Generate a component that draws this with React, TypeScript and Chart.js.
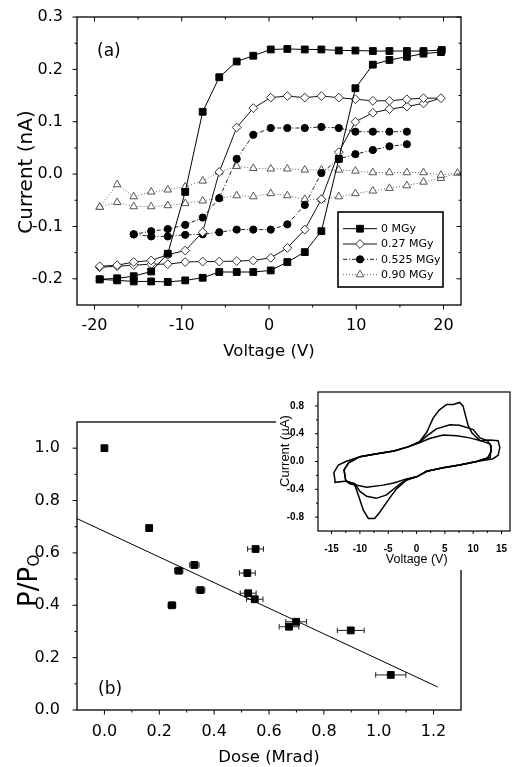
import React, { useEffect, useRef } from 'react';
import { Chart, registerables } from 'chart.js';

Chart.register(...registerables);

// ---------------- Panel (a): I-V loops ----------------
const seriesLabelsA = ['0 MGy', '0.27 MGy', '0.525 MGy', '0.90 MGy'];

const v0 = [-19.4, -17.4, -15.5, -13.5, -11.6, -9.6, -7.6, -5.7, -3.7, -1.8, 0.2, 2.1, 4.1, 6.0, 8.0, 9.9, 11.9, 13.8, 15.8, 17.7, 19.7,
  19.8, 17.7, 15.8, 13.8, 11.9, 9.9, 8.0, 6.0, 4.1, 2.1, 0.2, -1.8, -3.7, -5.7, -7.6, -9.6, -11.6, -13.5, -15.5, -17.4, -19.4];
const i0 = [-0.201, -0.203, -0.205, -0.205, -0.206, -0.203, -0.198, -0.187, -0.187, -0.187, -0.184, -0.168, -0.149, -0.109, 0.029, 0.164, 0.209, 0.218, 0.224, 0.230, 0.233,
  0.237, 0.235, 0.235, 0.235, 0.235, 0.236, 0.236, 0.238, 0.238, 0.239, 0.238, 0.226, 0.215, 0.185, 0.119, -0.034, -0.152, -0.186, -0.195, -0.199, -0.201];

const v027 = [-19.4, -17.4, -15.5, -13.5, -11.6, -9.6, -7.6, -5.7, -3.7, -1.8, 0.2, 2.1, 4.1, 6.0, 8.0, 9.9, 11.9, 13.8, 15.8, 17.7, 19.7,
  17.7, 15.8, 13.8, 11.9, 9.9, 8.0, 6.0, 4.1, 2.1, 0.2, -1.8, -3.7, -5.7, -7.6, -9.6, -11.6, -13.5, -15.5, -17.4, -19.4];
const i027 = [-0.178, -0.176, -0.174, -0.172, -0.172, -0.168, -0.167, -0.167, -0.166, -0.165, -0.160, -0.141, -0.106, -0.048, 0.042, 0.100, 0.117, 0.124, 0.129, 0.135, 0.145,
  0.145, 0.143, 0.140, 0.140, 0.143, 0.146, 0.149, 0.146, 0.149, 0.146, 0.126, 0.089, 0.004, -0.111, -0.146, -0.154, -0.165, -0.168, -0.174, -0.176];

// null marks the break between the forward and the reverse sweep
const v0525 = [-15.5, -13.5, -11.6, -9.6, -7.6, -5.7, -3.7, -1.8, 0.2, 2.1, 4.1, 6.0, 8.0, 9.9, 11.9, 13.8, 15.8,
  15.8,
  15.8, 13.8, 11.9, 9.9, 8.0, 6.0, 4.1, 2.1, 0.2, -1.8, -3.7, -5.7, -7.6, -9.6, -11.6, -13.5, -15.5];
const i0525 = [-0.115, -0.119, -0.119, -0.116, -0.115, -0.111, -0.106, -0.106, -0.106, -0.096, -0.059, 0.002, 0.029, 0.038, 0.046, 0.053, 0.057,
  null,
  0.081, 0.081, 0.081, 0.081, 0.088, 0.090, 0.088, 0.088, 0.088, 0.075, 0.029, -0.046, -0.083, -0.097, -0.105, -0.109, -0.115];

const v090 = [-19.4, -17.4, -15.5, -13.5, -11.6, -9.6, -7.6, -5.7, -3.7, -1.8, 0.2, 2.1, 4.1, 6.0, 8.0, 9.9, 11.9, 13.8, 15.8, 17.7, 19.7, 21.6,
  19.7, 17.7, 15.8, 13.8, 11.9, 9.9, 8.0, 6.0, 4.1, 2.1, 0.2, -1.8, -3.7, -5.7, -7.6, -9.6, -11.6, -13.5, -15.5, -17.4, -19.4];
const i090 = [-0.063, -0.054, -0.062, -0.062, -0.060, -0.056, -0.051, -0.046, -0.041, -0.043, -0.037, -0.041, -0.048, -0.048, -0.043, -0.037, -0.032, -0.027, -0.022, -0.015, -0.008, 0.002,
  -0.002, 0.003, 0.003, 0.003, 0.003, 0.006, 0.008, 0.008, 0.008, 0.010, 0.010, 0.011, 0.015, 0.004, -0.013, -0.024, -0.030, -0.034, -0.043, -0.020, -0.063];

const xTicksA = [-20, -10, 0, 10, 20];
const xMinorA = [-15, -5, 5, 15];
const yTicksA = [-0.2, -0.1, 0, 0.1, 0.2, 0.3];
const yMinorA = [-0.15, -0.05, 0.05, 0.15, 0.25];

// ---------------- Panel (b): P/Po vs dose ----------------
const doseX = [0.0, 0.163, 0.246, 0.271, 0.328, 0.35, 0.521, 0.524, 0.548, 0.551, 0.673, 0.699, 0.898, 1.044];
const ratioY = [1.0, 0.695, 0.400, 0.532, 0.554, 0.458, 0.523, 0.446, 0.423, 0.615, 0.318, 0.337, 0.304, 0.134];
const doseErr = [0, 0.008, 0.014, 0.015, 0.017, 0.016, 0.029, 0.029, 0.030, 0.029, 0.036, 0.038, 0.049, 0.055];
const fitX = [-0.1, 1.215];
const fitY = [0.731, 0.088];

const xTicksB = [0, 0.2, 0.4, 0.6, 0.8, 1.0, 1.2];
const xMinorB = [0.1, 0.3, 0.5, 0.7, 0.9, 1.1];
const yTicksB = [0, 0.2, 0.4, 0.6, 0.8, 1.0];
const yMinorB = [0.1, 0.3, 0.5, 0.7, 0.9];

// ---------------- Inset: cyclic I-V ----------------
const outerV = [-14.4, -14.6, -13.8, -12.5, -10, -7, -4, -1.5, 0.5, 1.8, 2.9, 4, 5.3, 6.5, 7.6, 8.2, 9.1, 9.8, 11.2, 12.9, 14.4, 14.7, 14.4, 13.5,
  10.6, 7.6, 4.7, 1.8, 0, -1.8, -3.5, -4.7, -6.5, -7.4, -8.5, -9.4, -10.3, -10.9, -12.3, -14.4, -14.4];
const outerI = [-0.27, -0.16, -0.05, 0.0, 0.07, 0.11, 0.15, 0.21, 0.28, 0.42, 0.62, 0.74, 0.82, 0.82, 0.85, 0.8, 0.52, 0.41, 0.3, 0.31, 0.3, 0.2, 0.09, 0.04,
  0.0, -0.05, -0.09, -0.14, -0.22, -0.27, -0.39, -0.52, -0.73, -0.82, -0.82, -0.7, -0.48, -0.34, -0.28, -0.3, -0.27];
const middleV = [-12.5, -12.8, -12, -10, -7, -4, -1.5, 0.5, 2, 3.5, 5.9, 7.6, 10, 11.2, 12.5, 13.2, 13, 10.6, 7.6, 4.7, 1.8, 0, -1.8, -2.9,
  -5.3, -7.1, -8.8, -10, -10.9, -12.5];
const middleI = [-0.28, -0.12, -0.02, 0.07, 0.11, 0.15, 0.21, 0.28, 0.38, 0.47, 0.53, 0.52, 0.46, 0.34, 0.3, 0.22, 0.06, 0.0, -0.05, -0.09, -0.14, -0.22, -0.26, -0.32,
  -0.48, -0.53, -0.5, -0.43, -0.32, -0.28];
const innerV = [-12.5, -12.8, -12, -10, -7, -4, -1.5, 0.5, 2.3, 4.7, 7.1, 9.4, 11.7, 13, 13.2, 12.5, 10.6, 7.6, 4.7, 1.8, 0, -1.8, -4, -5.9,
  -8.8, -11.8, -12.5];
const innerI = [-0.28, -0.12, -0.02, 0.07, 0.11, 0.15, 0.21, 0.27, 0.33, 0.38, 0.37, 0.34, 0.29, 0.25, 0.15, 0.05, 0.0, -0.05, -0.09, -0.14, -0.22, -0.25, -0.31, -0.34,
  -0.37, -0.32, -0.28];

const xTicksC = [-15, -10, -5, 0, 5, 10, 15];
const xMinorC = [-12.5, -7.5, -2.5, 2.5, 7.5, 12.5];
const yTicksC = [-0.8, -0.4, 0, 0.4, 0.8];
const yMinorC = [-0.6, -0.2, 0.2, 0.6];

// ---------------- styles ----------------
const FONT_MAIN = "'DejaVu Sans', sans-serif";
const FONT_INSET = "'Liberation Sans', Arial, sans-serif";

const stylesA = [
  { line: '#000', dash: [] as number[], point: 'rect', r: 4.8, fill: '#000', stroke: '#000' },
  { line: '#111', dash: [] as number[], point: 'rectRot', r: 4.4, fill: '#fff', stroke: '#333' },
  { line: '#222', dash: [4, 2, 1, 2], point: 'circle', r: 3.6, fill: '#000', stroke: '#000' },
  { line: '#666', dash: [1, 2], point: 'triangle', r: 4.4, fill: '#fff', stroke: '#555' },
];

const pts = (xs: number[], ys: (number | null)[]) => xs.map((x, k) => ({ x, y: ys[k] }));

function framePlugin(spec: any) {
  return {
    id: 'frameTicks',
    afterDraw(chart: any) {
      const { ctx, chartArea: a } = chart;
      const xs = chart.scales.x;
      const ys = chart.scales.y;
      ctx.save();
      ctx.strokeStyle = '#000';
      ctx.lineWidth = spec.lw;
      ctx.strokeRect(a.left, a.top, a.right - a.left, a.bottom - a.top);
      ctx.lineWidth = spec.tlw;
      const seg = (x1: number, y1: number, x2: number, y2: number) => {
        ctx.beginPath(); ctx.moveTo(x1, y1); ctx.lineTo(x2, y2); ctx.stroke();
      };
      const doX = (vals: number[], len: number) => vals.forEach((v) => {
        const px = xs.getPixelForValue(v);
        if (spec.bottom) seg(px, a.bottom, px, a.bottom + spec.bottom * len);
        if (spec.top) seg(px, a.top, px, a.top + spec.top * len);
      });
      const doY = (vals: number[], len: number) => vals.forEach((v) => {
        const py = ys.getPixelForValue(v);
        if (spec.left) seg(a.left, py, a.left + spec.left * len, py);
        if (spec.right) seg(a.right, py, a.right + spec.right * len, py);
      });
      doX(spec.majorX, spec.major); doX(spec.minorX, spec.minor);
      doY(spec.majorY, spec.major); doY(spec.minorY, spec.minor);
      ctx.restore();
    },
  };
}

function textPlugin(draw: (ctx: CanvasRenderingContext2D, chart: any) => void) {
  return { id: 'texts', afterDraw(chart: any) { const ctx = chart.ctx; ctx.save(); ctx.fillStyle = '#000'; draw(ctx, chart); ctx.restore(); } };
}

function rotText(ctx: CanvasRenderingContext2D, text: string, x: number, y: number, font: string) {
  ctx.save();
  ctx.translate(x, y);
  ctx.rotate(-Math.PI / 2);
  ctx.font = font;
  ctx.textAlign = 'center';
  ctx.textBaseline = 'alphabetic';
  ctx.fillText(text, 0, 0);
  ctx.restore();
}

function drawMarker(ctx: CanvasRenderingContext2D, st: any, x: number, y: number) {
  const r = st.r;
  ctx.beginPath();
  if (st.point === 'rect') {
    const s = r * Math.SQRT1_2; ctx.rect(x - s, y - s, 2 * s, 2 * s);
  } else if (st.point === 'rectRot') {
    ctx.moveTo(x, y - r); ctx.lineTo(x + r, y); ctx.lineTo(x, y + r); ctx.lineTo(x - r, y); ctx.closePath();
  } else if (st.point === 'circle') {
    ctx.arc(x, y, r, 0, Math.PI * 2);
  } else {
    for (let k = 0; k < 3; k++) {
      const ang = k * (2 * Math.PI / 3);
      const px = x + Math.sin(ang) * r; const py = y - Math.cos(ang) * r;
      if (k === 0) ctx.moveTo(px, py); else ctx.lineTo(px, py);
    }
    ctx.closePath();
  }
  ctx.fillStyle = st.fill; ctx.fill();
  ctx.strokeStyle = st.stroke; ctx.lineWidth = 1; ctx.setLineDash([]); ctx.stroke();
}

const legendPluginA = {
  id: 'legendA',
  afterDraw(chart: any) {
    const ctx = chart.ctx as CanvasRenderingContext2D;
    ctx.save();
    ctx.fillStyle = '#fff';
    ctx.fillRect(338, 212, 105, 75);
    ctx.strokeStyle = '#000'; ctx.lineWidth = 1.6;
    ctx.strokeRect(338, 212, 105, 75);
    seriesLabelsA.forEach((lab, k) => {
      const st = stylesA[k];
      const y = 228.7 + k * 15.3;
      ctx.strokeStyle = st.line; ctx.lineWidth = 1; ctx.setLineDash(st.dash);
      ctx.beginPath(); ctx.moveTo(343, y); ctx.lineTo(377, y); ctx.stroke();
      ctx.setLineDash([]);
      drawMarker(ctx, st, 360, y);
      ctx.fillStyle = '#000';
      ctx.font = `11px ${FONT_MAIN}`;
      ctx.textAlign = 'left'; ctx.textBaseline = 'middle';
      ctx.fillText(lab, 381, y + 0.5);
    });
    ctx.restore();
  },
};

const errorBarPlugin = {
  id: 'errBars',
  beforeDatasetsDraw(chart: any) {
    const ctx = chart.ctx as CanvasRenderingContext2D;
    const xs = chart.scales.x; const ys = chart.scales.y;
    ctx.save();
    ctx.strokeStyle = '#222'; ctx.lineWidth = 1;
    doseX.forEach((x, k) => {
      const e = doseErr[k];
      if (!e) return;
      const x1 = xs.getPixelForValue(x - e); const x2 = xs.getPixelForValue(x + e);
      const y = ys.getPixelForValue(ratioY[k]);
      ctx.beginPath();
      ctx.moveTo(x1, y); ctx.lineTo(x2, y);
      ctx.moveTo(x1, y - 2.8); ctx.lineTo(x1, y + 2.8);
      ctx.moveTo(x2, y - 2.8); ctx.lineTo(x2, y + 2.8);
      ctx.stroke();
    });
    ctx.restore();
  },
};

const whiteBg = {
  id: 'whiteBg',
  beforeDraw(chart: any) {
    const ctx = chart.ctx; ctx.save(); ctx.fillStyle = '#fff'; ctx.fillRect(0, 0, chart.width, chart.height); ctx.restore();
  },
};

function axis(opts: any) {
  return {
    type: 'linear',
    min: opts.min,
    max: opts.max,
    grid: { display: false },
    border: { display: false },
    afterBuildTicks: (s: any) => { s.ticks = opts.ticks.map((v: number) => ({ value: v })); },
    afterFit: (s: any) => { if (opts.width !== undefined) s.width = opts.width; if (opts.height !== undefined) s.height = opts.height; },
    ticks: {
      font: opts.font,
      color: '#000',
      padding: opts.padding,
      maxRotation: 0,
      minRotation: 0,
      autoSkip: false,
      callback: opts.fmt,
    },
  };
}

function makeA(canvas: HTMLCanvasElement) {
  const series = [[v0, i0], [v027, i027], [v0525, i0525], [v090, i090]];
  return new Chart(canvas, {
    type: 'scatter',
    data: {
      datasets: series.map(([xs, ys], k) => ({
        label: seriesLabelsA[k],
        data: pts(xs as number[], ys as any),
        showLine: true,
        spanGaps: false,
        borderColor: stylesA[k].line,
        borderWidth: 1,
        borderDash: stylesA[k].dash,
        pointStyle: stylesA[k].point,
        pointRadius: stylesA[k].r,
        pointBackgroundColor: stylesA[k].fill,
        pointBorderColor: stylesA[k].stroke,
        pointBorderWidth: 1,
        tension: 0,
      })),
    } as any,
    options: {
      animation: false,
      responsive: false,
      devicePixelRatio: 1,
      events: [],
      layout: { padding: { top: 17, right: 51, left: 0, bottom: 0 } },
      plugins: { legend: { display: false }, tooltip: { enabled: false } },
      scales: {
        x: axis({ min: -22, max: 22, ticks: xTicksA, height: 70, padding: 3, font: { family: FONT_MAIN, size: 16 }, fmt: (v: any) => String(v) }),
        y: axis({ min: -0.25, max: 0.3, ticks: yTicksA, width: 77, padding: 6, font: { family: FONT_MAIN, size: 16 }, fmt: (v: any) => Number(v).toFixed(1) }),
      },
    } as any,
    plugins: [
      framePlugin({ lw: 1.3, tlw: 1, major: 4.5, minor: 2.5, bottom: 1, left: -1, top: 1, right: -1, majorX: xTicksA, minorX: xMinorA, majorY: yTicksA, minorY: yMinorA }),
      legendPluginA,
      textPlugin((ctx) => {
        rotText(ctx, 'Current (nA)', 32, 172, `20px ${FONT_MAIN}`);
        ctx.font = `16.5px ${FONT_MAIN}`; ctx.textAlign = 'center'; ctx.textBaseline = 'alphabetic';
        ctx.fillText('Voltage (V)', 269, 356);
        ctx.font = `17px ${FONT_MAIN}`; ctx.textAlign = 'left';
        ctx.fillText('(a)', 97, 56);
      }),
    ],
  });
}

function makeB(canvas: HTMLCanvasElement) {
  return new Chart(canvas, {
    type: 'scatter',
    data: {
      datasets: [
        {
          label: 'P/Po',
          data: pts(doseX, ratioY),
          pointStyle: 'rect',
          pointRadius: 4.8,
          pointBackgroundColor: '#000',
          pointBorderColor: '#000',
          pointBorderWidth: 1,
        },
        {
          label: 'fit',
          data: pts(fitX, fitY),
          showLine: true,
          borderColor: '#000',
          borderWidth: 1,
          pointRadius: 0,
        },
      ],
    } as any,
    options: {
      animation: false,
      responsive: false,
      devicePixelRatio: 1,
      events: [],
      layout: { padding: { top: 47, right: 51, left: 0, bottom: 0 } },
      plugins: { legend: { display: false }, tooltip: { enabled: false } },
      scales: {
        x: axis({ min: -0.1, max: 1.3, ticks: xTicksB, height: 57, padding: 4, font: { family: FONT_MAIN, size: 16 }, fmt: (v: any) => Number(v).toFixed(1) }),
        y: axis({ min: 0, max: 1.1, ticks: yTicksB, width: 77, padding: 9, font: { family: FONT_MAIN, size: 16 }, fmt: (v: any) => Number(v).toFixed(1) }),
      },
    } as any,
    plugins: [
      framePlugin({ lw: 1.3, tlw: 1, major: 4.5, minor: 2.5, bottom: 1, left: -1, top: 0, right: 0, majorX: xTicksB, minorX: xMinorB, majorY: yTicksB, minorY: yMinorB }),
      errorBarPlugin,
      textPlugin((ctx) => {
        ctx.save();
        ctx.translate(37, 607 - 375);
        ctx.rotate(-Math.PI / 2);
        ctx.textAlign = 'left'; ctx.textBaseline = 'alphabetic';
        ctx.font = `26px ${FONT_MAIN}`;
        ctx.fillText('P/P', 0, 0);
        const w = ctx.measureText('P/P').width;
        ctx.font = `15px ${FONT_MAIN}`;
        ctx.fillText('O', w + 0.5, 2);
        ctx.restore();
        ctx.font = `16.5px ${FONT_MAIN}`; ctx.textAlign = 'center'; ctx.textBaseline = 'alphabetic';
        ctx.fillText('Dose (Mrad)', 269, 762 - 375);
        ctx.font = `17px ${FONT_MAIN}`; ctx.textAlign = 'left';
        ctx.fillText('(b)', 98, 694 - 375);
      }),
    ],
  });
}

function makeInset(canvas: HTMLCanvasElement) {
  const loops = [[outerV, outerI], [middleV, middleI], [innerV, innerI]];
  return new Chart(canvas, {
    type: 'scatter',
    data: {
      datasets: loops.map(([xs, ys], k) => ({
        label: 'loop' + k,
        data: pts(xs, ys),
        showLine: true,
        borderColor: '#000',
        borderWidth: 1.5,
        pointRadius: 0,
        tension: 0,
      })),
    } as any,
    options: {
      animation: false,
      responsive: false,
      devicePixelRatio: 1,
      events: [],
      layout: { padding: { top: 4, right: 2, left: 0, bottom: 0 } },
      plugins: { legend: { display: false }, tooltip: { enabled: false } },
      scales: {
        x: axis({ min: -17.4, max: 16.5, ticks: xTicksC, height: 39, padding: 4, font: { family: FONT_INSET, size: 10, weight: 'bold' }, fmt: (v: any) => String(v) }),
        y: axis({ min: -1, max: 1, ticks: yTicksC, width: 42, padding: 6, font: { family: FONT_INSET, size: 10, weight: 'bold' }, fmt: (v: any) => Number(v).toFixed(1) }),
      },
    } as any,
    plugins: [
      whiteBg,
      framePlugin({ lw: 1.2, tlw: 1, major: 3, minor: 2, bottom: 1, left: -1, top: 0, right: 0, majorX: xTicksC, minorX: xMinorC, majorY: yTicksC, minorY: yMinorC }),
      textPlugin((ctx) => {
        rotText(ctx, 'Current (\u00B5A)', 13, 71, `13px ${FONT_INSET}`);
        ctx.font = `12.5px ${FONT_INSET}`; ctx.textAlign = 'center'; ctx.textBaseline = 'alphabetic';
        ctx.fillText('Voltage (V)', 140.7, 183);
      }),
    ],
  });
}

export default function App() {
  const refA = useRef<HTMLCanvasElement>(null);
  const refB = useRef<HTMLCanvasElement>(null);
  const refC = useRef<HTMLCanvasElement>(null);
  useEffect(() => {
    const charts = [makeA(refA.current!), makeB(refB.current!), makeInset(refC.current!)];
    return () => charts.forEach((c) => c.destroy());
  }, []);
  return (
    <div style={{ position: 'absolute', left: 0, top: 0, width: 512, height: 767, background: '#fff', overflow: 'hidden' }}>
      <canvas ref={refA} width={512} height={375} style={{ position: 'absolute', left: 0, top: 0 }} />
      <canvas ref={refB} width={512} height={392} style={{ position: 'absolute', left: 0, top: 375 }} />
      <canvas ref={refC} width={236} height={190} style={{ position: 'absolute', left: 276, top: 380 }} />
    </div>
  );
}
